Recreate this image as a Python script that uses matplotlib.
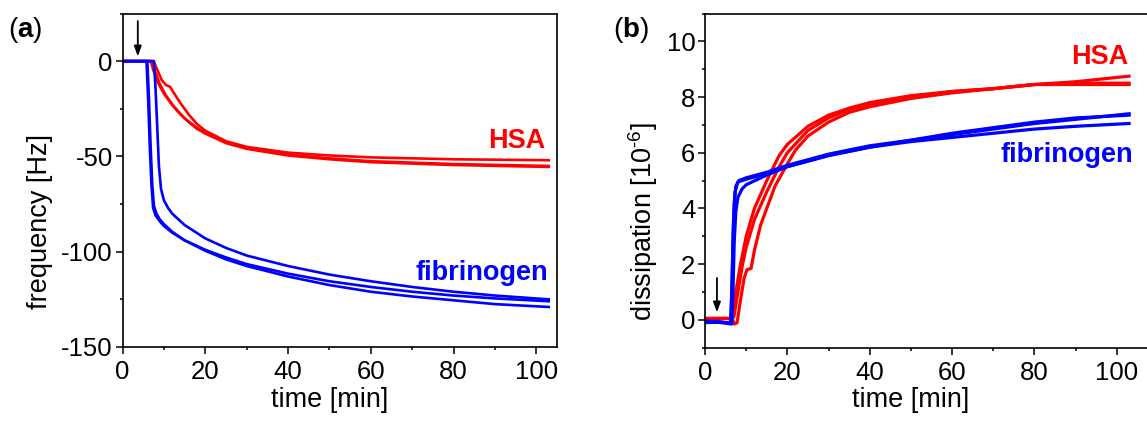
import numpy as np
import matplotlib
matplotlib.use("Agg")
import matplotlib.pyplot as plt
from matplotlib.ticker import MultipleLocator

plt.rcParams['font.family'] = ['Liberation Sans', 'DejaVu Sans']
plt.rcParams['mathtext.fontset'] = 'custom'
plt.rcParams['mathtext.rm'] = 'Liberation Sans'
plt.rcParams['mathtext.bf'] = 'Liberation Sans:bold'
plt.rcParams['axes.unicode_minus'] = False

RED = '#ff0000'
BLUE = '#0000ff'

# ---- (a) frequency shift [Hz] vs time [min] ----
hsa_freq_t = [
    [0, 7.5, 8.5, 9.5, 10.5, 11.5, 12.5, 14, 16, 18, 20, 25, 30, 40, 50, 60, 80, 103],
    [0, 6.8, 7.5, 8.5, 10, 12, 14, 16, 18, 20, 25, 30, 40, 50, 60, 80, 103],
    [0, 7.0, 7.8, 9, 10.5, 12.5, 15, 18, 20, 25, 30, 40, 50, 60, 80, 103],
]
hsa_freq = [
    [0, 0, -5, -10, -12.5, -13.5, -17, -22, -28, -33, -36.5, -42, -45, -48, -49.5, -50.5, -51.5, -52],
    [0, 0, -5, -11, -17, -23, -28, -32, -35.5, -38, -43, -46, -49.5, -51.5, -53, -54.5, -55.5],
    [0, 0, -5, -12, -18, -24, -30, -35, -37.5, -42.5, -45.5, -49, -51, -52.5, -54, -55],
]
fib_freq_t = [
    [0, 5.8, 6.2, 6.6, 7.0, 7.4, 8, 9, 10, 12, 15, 20, 25, 30, 40, 50, 60, 70, 80, 90, 103],
    [0, 6.0, 6.4, 6.8, 7.2, 7.6, 8.2, 9, 10, 12, 15, 20, 25, 30, 40, 50, 60, 70, 80, 90, 103],
    [0, 7.6, 8.0, 8.4, 8.8, 9.3, 10, 11, 12, 15, 20, 25, 30, 40, 50, 60, 70, 80, 90, 103],
]
fib_freq = [
    [0, 0, -20, -45, -65, -77, -81, -84, -86.5, -90, -94, -99, -103, -106.5, -111.5, -115.5, -118.5, -121, -123, -124.5, -126],
    [0, 0, -20, -45, -65, -76, -80, -83, -85.5, -89.5, -94, -99.5, -104, -107.5, -113, -117.5, -121, -123.5, -125.5, -127.5, -129],
    [0, 0, -15, -35, -55, -67, -73, -77, -80, -86, -93, -98, -102, -107.5, -112, -115.5, -118.5, -121, -123, -125],
]

# ---- (b) dissipation [1e-6] vs time [min] ----
hsa_diss_t = [
    [0, 6.3, 6.8, 7.5, 8.5, 10, 12, 15, 18, 20, 25, 30, 35, 40, 50, 60, 70, 80, 90, 103],
    [0, 6.5, 7.2, 7.8, 8.5, 9.5, 10.2, 11.2, 12, 13.5, 15, 17, 20, 22, 25, 30, 35, 40, 50, 60, 70, 80, 90, 103],
    [0, 6.5, 7.0, 8, 9, 10, 12, 15, 18, 20, 25, 30, 35, 40, 50, 60, 70, 80, 90, 103],
]
hsa_diss = [
    [0.05, 0.05, 0.2, 1.0, 1.9, 3.0, 4.0, 5.0, 5.9, 6.3, 6.95, 7.35, 7.6, 7.8, 8.05, 8.2, 8.3, 8.45, 8.55, 8.75],
    [0.05, 0.05, -0.15, -0.1, 0.6, 1.5, 1.8, 1.85, 2.5, 3.4, 4.0, 4.8, 5.6, 6.1, 6.6, 7.1, 7.45, 7.65, 7.95, 8.15, 8.3, 8.45, 8.45, 8.45],
    [0.05, 0.05, 0.1, 1.0, 1.9, 2.6, 3.6, 4.6, 5.5, 6.0, 6.8, 7.25, 7.55, 7.75, 8.0, 8.2, 8.3, 8.45, 8.5, 8.5],
]
fib_diss_t = [
    [0, 3, 5, 6.2, 6.5, 6.8, 7.1, 7.5, 8.2, 10, 15, 20, 25, 30, 40, 50, 60, 70, 80, 90, 103],
    [0, 3, 5, 6.5, 6.8, 7.1, 7.5, 8, 9, 10, 15, 20, 25, 30, 40, 50, 60, 70, 80, 90, 103],
    [0, 6.3, 6.6, 6.9, 7.3, 8, 10, 15, 20, 25, 30, 40, 50, 60, 70, 80, 90, 103],
]
fib_diss = [
    [-0.05, -0.05, -0.1, -0.12, 1.0, 2.8, 4.2, 4.8, 5.0, 5.1, 5.3, 5.55, 5.75, 5.95, 6.25, 6.45, 6.65, 6.85, 7.05, 7.2, 7.4],
    [-0.1, -0.08, -0.12, -0.15, 1.0, 2.8, 3.9, 4.4, 4.7, 4.85, 5.2, 5.5, 5.7, 5.9, 6.2, 6.4, 6.55, 6.7, 6.85, 6.95, 7.05],
    [-0.08, -0.1, 1.5, 3.5, 4.6, 4.95, 5.05, 5.25, 5.5, 5.7, 5.9, 6.2, 6.45, 6.7, 6.9, 7.1, 7.25, 7.35],
]

W, H = 1147, 421
fig = plt.figure(figsize=(W / 100, H / 100), dpi=100)

ax_a = fig.add_axes([122.5 / W, 1 - 347 / H, 434.5 / W, 333.5 / H])
ax_b = fig.add_axes([705 / W, 1 - 347.7 / H, 442.6 / W, 334.2 / H])

FS_TICK = 18.5
FS_LABEL = 19.5
FS_TAG = 19.5

def style_axes(ax):
    for s in ax.spines.values():
        s.set_linewidth(1.2)
    ax.tick_params(which='both', direction='out', top=False, right=False,
                   width=1.1, labelsize=FS_TICK)
    ax.tick_params(which='major', length=5)
    ax.tick_params(which='minor', length=2.5)
    ax.tick_params(axis='x', pad=4.5)
    ax.tick_params(axis='y', pad=2)

# panel (a)
for t, f in zip(hsa_freq_t, hsa_freq):
    ax_a.plot(t, f, color=RED, lw=1.9, solid_joinstyle='round')
for t, f in zip(fib_freq_t, fib_freq):
    ax_a.plot(t, f, color=BLUE, lw=1.9, solid_joinstyle='round')
ax_a.set_xlim(0, 105)
ax_a.set_ylim(-150, 25)
ax_a.xaxis.set_major_locator(MultipleLocator(20))
ax_a.xaxis.set_minor_locator(MultipleLocator(10))
ax_a.yaxis.set_major_locator(MultipleLocator(50))
ax_a.yaxis.set_minor_locator(MultipleLocator(25))
style_axes(ax_a)
ax_a.set_xlabel('time [min]', fontsize=FS_LABEL, va='center')
ax_a.xaxis.set_label_coords(0.4776, -0.159)
ax_a.set_ylabel('frequency [Hz]', fontsize=FS_LABEL, va='center')
ax_a.yaxis.set_label_coords(-0.19, 0.375)
ax_a.text(102.3, -45.8, 'HSA', color=RED, fontsize=FS_TAG, fontweight='bold',
          ha='right', va='baseline')
ax_a.text(102.8, -114.6, 'fibrinogen', color=BLUE, fontsize=FS_TAG, fontweight='bold',
          ha='right', va='baseline')
ax_a.annotate('', xy=(3.7, 2.5), xytext=(3.7, 21),
              arrowprops=dict(arrowstyle='-|>,head_length=0.6,head_width=0.22',
                              color='black', lw=1.3, shrinkA=0, shrinkB=0))

# panel (b)
for t, d in zip(hsa_diss_t, hsa_diss):
    ax_b.plot(t, d, color=RED, lw=2.3, solid_joinstyle='round')
for t, d in zip(fib_diss_t, fib_diss):
    ax_b.plot(t, d, color=BLUE, lw=2.3, solid_joinstyle='round')
ax_b.set_xlim(0, 107.5)
ax_b.set_ylim(-1, 11)
ax_b.xaxis.set_major_locator(MultipleLocator(20))
ax_b.xaxis.set_minor_locator(MultipleLocator(10))
ax_b.yaxis.set_major_locator(MultipleLocator(2))
ax_b.yaxis.set_minor_locator(MultipleLocator(1))
style_axes(ax_b)
ax_b.set_xlabel('time [min]', fontsize=FS_LABEL, va='center')
ax_b.xaxis.set_label_coords(0.465, -0.156)
ax_b.set_ylabel(r'dissipation [10$^{\text{-6}}$]', fontsize=FS_LABEL, va='center')
ax_b.yaxis.set_label_coords(-0.14, 0.376)
ax_b.text(102.9, 9.2, 'HSA', color=RED, fontsize=FS_TAG, fontweight='bold',
          ha='right', va='baseline')
ax_b.text(103.9, 5.65, 'fibrinogen', color=BLUE, fontsize=FS_TAG, fontweight='bold',
          ha='right', va='baseline')
ax_b.annotate('', xy=(2.9, 0.27), xytext=(2.9, 1.5),
              arrowprops=dict(arrowstyle='-|>,head_length=0.6,head_width=0.22',
                              color='black', lw=1.3, shrinkA=0, shrinkB=0))

# panel tags
fig.text(8 / W, 1 - 30 / H, r'($\mathbf{a}$)', fontsize=20, ha='left', va='center')
fig.text(613 / W, 1 - 30 / H, r'($\mathbf{b}$)', fontsize=20, ha='left', va='center')

fig.savefig('out.png', dpi=100)
